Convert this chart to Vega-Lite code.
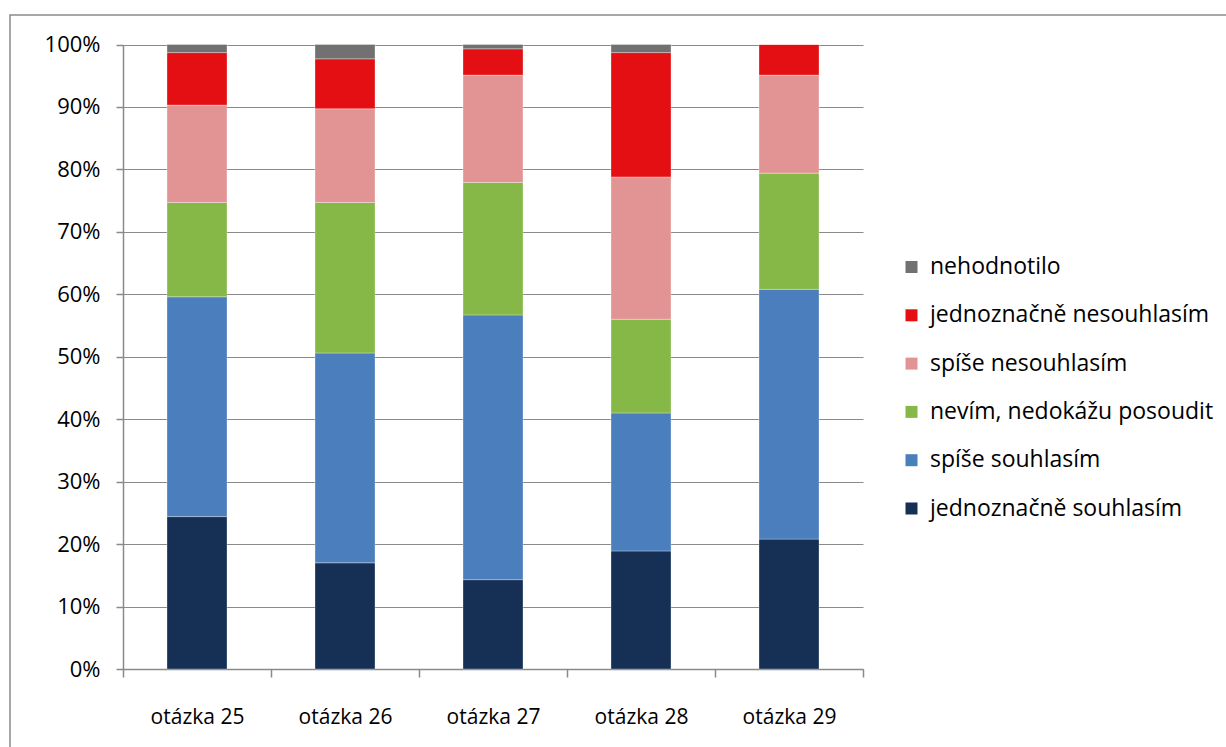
{
  "$schema": "https://vega.github.io/schema/vega-lite/v6.json",
  "width": 1230,
  "height": 740,
  "autosize": {"type": "none"},
  "padding": {"left": 10, "top": 15, "right": 0, "bottom": 0},
  "background": "white",
  "config": {
    "view": {"stroke": "#8a8a8a", "strokeWidth": 1.5},
    "font": "Open Sans"
  },
  "data": {
    "values": [
      {"otazka": "otázka 25", "odpoved": "jednoznačně souhlasím", "podil": 24.4},
      {"otazka": "otázka 25", "odpoved": "spíše souhlasím", "podil": 35.2},
      {"otazka": "otázka 25", "odpoved": "nevím, nedokážu posoudit", "podil": 15.1},
      {"otazka": "otázka 25", "odpoved": "spíše nesouhlasím", "podil": 15.6},
      {"otazka": "otázka 25", "odpoved": "jednoznačně nesouhlasím", "podil": 8.4},
      {"otazka": "otázka 25", "odpoved": "nehodnotilo", "podil": 1.3},
      {"otazka": "otázka 26", "odpoved": "jednoznačně souhlasím", "podil": 17.0},
      {"otazka": "otázka 26", "odpoved": "spíše souhlasím", "podil": 33.6},
      {"otazka": "otázka 26", "odpoved": "nevím, nedokážu posoudit", "podil": 24.1},
      {"otazka": "otázka 26", "odpoved": "spíše nesouhlasím", "podil": 15.0},
      {"otazka": "otázka 26", "odpoved": "jednoznačně nesouhlasím", "podil": 8.0},
      {"otazka": "otázka 26", "odpoved": "nehodnotilo", "podil": 2.3},
      {"otazka": "otázka 27", "odpoved": "jednoznačně souhlasím", "podil": 14.3},
      {"otazka": "otázka 27", "odpoved": "spíše souhlasím", "podil": 42.4},
      {"otazka": "otázka 27", "odpoved": "nevím, nedokážu posoudit", "podil": 21.2},
      {"otazka": "otázka 27", "odpoved": "spíše nesouhlasím", "podil": 17.2},
      {"otazka": "otázka 27", "odpoved": "jednoznačně nesouhlasím", "podil": 4.2},
      {"otazka": "otázka 27", "odpoved": "nehodnotilo", "podil": 0.7},
      {"otazka": "otázka 28", "odpoved": "jednoznačně souhlasím", "podil": 18.9},
      {"otazka": "otázka 28", "odpoved": "spíše souhlasím", "podil": 22.1},
      {"otazka": "otázka 28", "odpoved": "nevím, nedokážu posoudit", "podil": 15.0},
      {"otazka": "otázka 28", "odpoved": "spíše nesouhlasím", "podil": 22.8},
      {"otazka": "otázka 28", "odpoved": "jednoznačně nesouhlasím", "podil": 19.9},
      {"otazka": "otázka 28", "odpoved": "nehodnotilo", "podil": 1.3},
      {"otazka": "otázka 29", "odpoved": "jednoznačně souhlasím", "podil": 20.8},
      {"otazka": "otázka 29", "odpoved": "spíše souhlasím", "podil": 40.0},
      {"otazka": "otázka 29", "odpoved": "nevím, nedokážu posoudit", "podil": 18.6},
      {"otazka": "otázka 29", "odpoved": "spíše nesouhlasím", "podil": 15.7},
      {"otazka": "otázka 29", "odpoved": "jednoznačně nesouhlasím", "podil": 4.9},
      {"otazka": "otázka 29", "odpoved": "nehodnotilo", "podil": 0}
    ]
  },
  "transform": [
    {
      "calculate": "indexof(['jednoznačně souhlasím', 'spíše souhlasím', 'nevím, nedokážu posoudit', 'spíše nesouhlasím', 'jednoznačně nesouhlasím', 'nehodnotilo'], datum.odpoved)",
      "as": "poradi"
    }
  ],
  "mark": {"type": "bar", "size": 60, "stroke": "white", "strokeWidth": 0.5, "strokeOpacity": 0.6},
  "encoding": {
    "x": {
      "field": "otazka",
      "type": "nominal",
      "sort": null,
      "scale": {"range": [113, 853], "paddingInner": 0, "paddingOuter": 0},
      "axis": {
        "title": null,
        "orient": "bottom",
        "offset": -86,
        "labelAngle": 0,
        "tickBand": "extent",
        "tickSize": 8,
        "tickColor": "#8a8a8a",
        "tickWidth": 1.5,
        "domainColor": "#8a8a8a",
        "domainWidth": 1.5,
        "grid": false,
        "labelFontSize": 21,
        "labelColor": "#000000",
        "labelPadding": 40,
        "labelBaseline": "middle"
      }
    },
    "y": {
      "field": "podil",
      "type": "quantitative",
      "stack": "zero",
      "scale": {"domain": [0, 100], "range": [654, 29.5], "nice": false, "zero": true},
      "axis": {
        "title": null,
        "orient": "left",
        "offset": -113,
        "values": [0, 10, 20, 30, 40, 50, 60, 70, 80, 90, 100],
        "labelExpr": "datum.value + '%'",
        "tickSize": 7,
        "tickColor": "#8a8a8a",
        "tickWidth": 1.5,
        "domainColor": "#8a8a8a",
        "domainWidth": 1.5,
        "grid": true,
        "gridColor": "#8a8a8a",
        "gridWidth": 1.2,
        "labelFontSize": 22,
        "labelColor": "#000000",
        "labelPadding": 16
      }
    },
    "color": {
      "field": "odpoved",
      "type": "nominal",
      "scale": {
        "domain": ["nehodnotilo", "jednoznačně nesouhlasím", "spíše nesouhlasím", "nevím, nedokážu posoudit", "spíše souhlasím", "jednoznačně souhlasím"],
        "range": ["#717171", "#e30f12", "#e29494", "#86b848", "#4a7ebd", "#152f55"]
      },
      "legend": {
        "title": null,
        "orient": "none",
        "legendX": 890,
        "legendY": 240.5,
        "padding": 0,
        "symbolType": "square",
        "symbolSize": 144,
        "symbolStrokeWidth": 0,
        "labelFontSize": 23,
        "labelColor": "#000000",
        "labelOffset": 7,
        "rowPadding": 24.3,
        "labelLimit": 400
      }
    },
    "order": {"field": "poradi", "type": "quantitative"}
  }
}
